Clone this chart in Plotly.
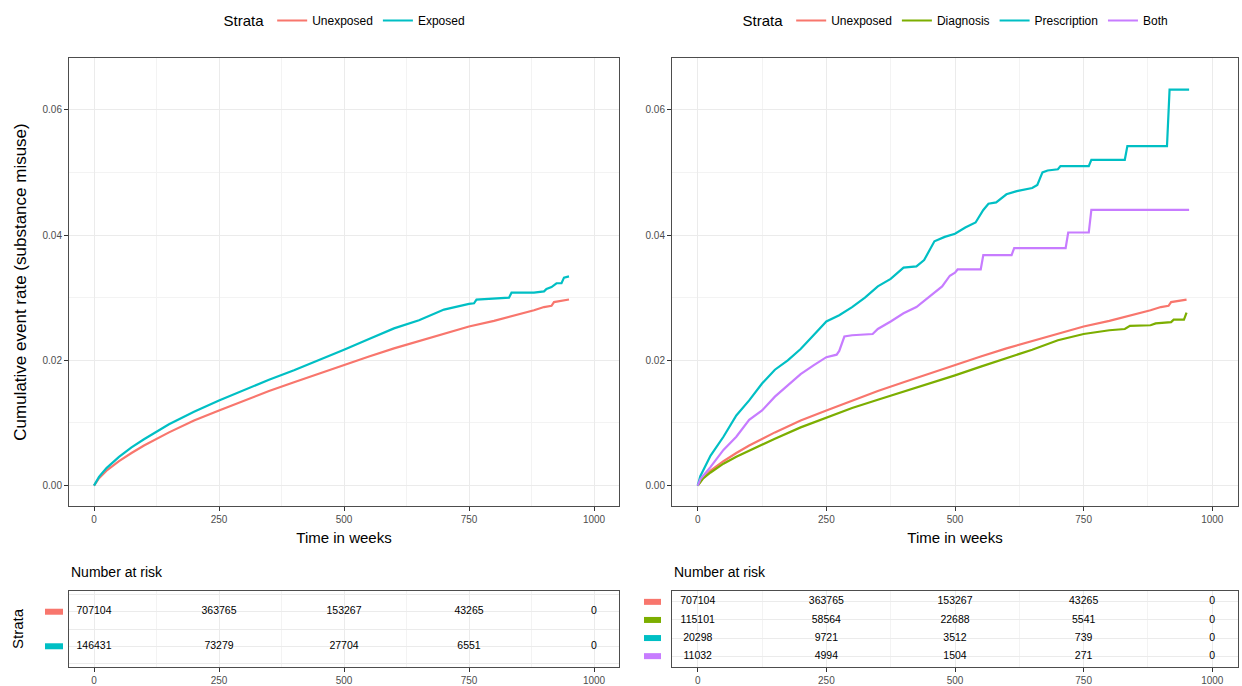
import plotly.graph_objects as go

# ---------------- data ----------------
# Left panel: Unexposed vs Exposed
t_unexposed = [0, 10, 25, 50, 75, 100, 150, 200, 250, 300, 350, 400, 450, 500, 550, 600,
               650, 700, 750, 800, 850, 880, 900, 915, 920, 950]
v_unexposed = [0, 0.0012, 0.0024, 0.0039, 0.0052, 0.0064, 0.0085, 0.0104, 0.0120, 0.0136,
               0.0151, 0.0165, 0.0179, 0.0192, 0.0206, 0.0219, 0.0231, 0.0242, 0.0254,
               0.0263, 0.0273, 0.0280, 0.0285, 0.0287, 0.0293, 0.0297]

t_exposed = [0, 10, 25, 50, 75, 100, 150, 200, 250, 300, 350, 400, 450, 500, 550, 600, 650,
             700, 750, 760, 765, 800, 830, 835, 880, 900, 905, 915, 925, 935, 940, 950]
v_exposed = [0, 0.0014, 0.0028, 0.0046, 0.0061, 0.0074, 0.0098, 0.0118, 0.0136, 0.0153,
             0.0169, 0.0184, 0.0200, 0.0217, 0.0234, 0.0251, 0.0264, 0.0281, 0.0290, 0.0291,
             0.0297, 0.0299, 0.0300, 0.0308, 0.0308, 0.0310, 0.0314, 0.0317, 0.0323, 0.0323,
             0.0332, 0.0334]

# Right panel: Diagnosis / Prescription / Both (Unexposed as above)
t_diagnosis = [0, 10, 25, 50, 75, 100, 150, 200, 250, 300, 350, 400, 450, 500, 550, 600, 650,
               700, 750, 800, 830, 840, 880, 890, 920, 925, 945, 950]
v_diagnosis = [0, 0.0011, 0.0021, 0.0035, 0.0046, 0.0056, 0.0075, 0.0093, 0.0109, 0.0124,
               0.0137, 0.0150, 0.0162, 0.0176, 0.0190, 0.0203, 0.0217, 0.0232, 0.0242, 0.0248,
               0.0250, 0.0255, 0.0256, 0.0259, 0.0261, 0.0265, 0.0265, 0.0276]

t_prescription = [0, 5, 25, 50, 75, 100, 125, 150, 175, 200, 225, 250, 275, 300, 325, 350, 375,
                  400, 425, 440, 460, 480, 500, 520, 540, 555, 565, 580, 600, 620, 650, 660,
                  665, 670, 680, 700, 705, 760, 765, 830, 835, 912, 917, 955]
v_prescription = [0, 0.0015, 0.0048, 0.0078, 0.0112, 0.0136, 0.0163, 0.0185, 0.0200, 0.0218,
                  0.0240, 0.0262, 0.0272, 0.0285, 0.0300, 0.0318, 0.0330, 0.0348, 0.0350,
                  0.0360, 0.0390, 0.0397, 0.0402, 0.0412, 0.0420, 0.0440, 0.0450, 0.0452,
                  0.0465, 0.0470, 0.0475, 0.0480, 0.0490, 0.0500, 0.0503, 0.0505, 0.0510,
                  0.0510, 0.0520, 0.0520, 0.0542, 0.0542, 0.0632, 0.0632]

t_both = [0, 5, 25, 50, 75, 100, 125, 150, 175, 200, 225, 250, 270, 275, 285, 300, 340, 350,
          375, 400, 425, 450, 475, 490, 500, 505, 550, 555, 610, 615, 715, 720, 760, 765, 955]
v_both = [0, 0.0010, 0.0030, 0.0057, 0.0078, 0.0105, 0.0120, 0.0142, 0.0160, 0.0178, 0.0192,
          0.0205, 0.0209, 0.0215, 0.0238, 0.0240, 0.0242, 0.0250, 0.0262, 0.0275, 0.0285,
          0.0302, 0.0318, 0.0335, 0.0340, 0.0345, 0.0345, 0.0368, 0.0368, 0.0379, 0.0379,
          0.0404, 0.0404, 0.0440, 0.0440]

# Number at risk tables
risk_times = [0, 250, 500, 750, 1000]
risk_unexposed = [707104, 363765, 153267, 43265, 0]
risk_exposed = [146431, 73279, 27704, 6551, 0]
risk_diagnosis = [115101, 58564, 22688, 5541, 0]
risk_prescription = [20298, 9721, 3512, 739, 0]
risk_both = [11032, 4994, 1504, 271, 0]

x_ticks = [0, 250, 500, 750, 1000]
y_ticks = [0, 0.02, 0.04, 0.06]

# ---------------- styling ----------------
RED, BLUE, GREEN, VIOLET = "#F8766D", "#00BFC4", "#7CAE00", "#C77CFF"
FONT = "Liberation Sans, Arial, sans-serif"
GRID = "#EBEBEB"
MINOR = "#F3F3F3"
BORDER = "#4D4D4D"
TICKC = "#4D4D4D"
W, H = 1242, 686


def px_x(p):
    return p / W


def px_y(p):
    return 1 - p / H


fig = go.Figure()


def curve(t, v, name, color, xa, ya, legend):
    fig.add_trace(go.Scatter(x=t, y=v, mode="lines", name=name, xaxis=xa, yaxis=ya,
                             legend=legend, line=dict(color=color, width=2.2),
                             hoverinfo="skip"))


curve(t_unexposed, v_unexposed, "Unexposed", RED, "x", "y", "legend")
curve(t_exposed, v_exposed, "Exposed", BLUE, "x", "y", "legend")
curve(t_unexposed, v_unexposed, "Unexposed", RED, "x2", "y2", "legend2")
curve(t_diagnosis, v_diagnosis, "Diagnosis", GREEN, "x2", "y2", "legend2")
curve(t_prescription, v_prescription, "Prescription", BLUE, "x2", "y2", "legend2")
curve(t_both, v_both, "Both", VIOLET, "x2", "y2", "legend2")


def risk_row(counts, row, xa, ya):
    fig.add_trace(go.Scatter(x=risk_times, y=[row] * len(risk_times), mode="text",
                             text=[str(c) for c in counts], textposition="middle center",
                             textfont=dict(family=FONT, size=10.5, color="#000000"),
                             xaxis=xa, yaxis=ya, showlegend=False, hoverinfo="skip",
                             cliponaxis=False))


left_rows = [("Unexposed", risk_unexposed, RED), ("Exposed", risk_exposed, BLUE)]
right_rows = [("Unexposed", risk_unexposed, RED), ("Diagnosis", risk_diagnosis, GREEN),
              ("Prescription", risk_prescription, BLUE), ("Both", risk_both, VIOLET)]

LEFT_TAB_RANGE = [0.4, 2.6]
RIGHT_TAB_RANGE = [0.4, 4.6]


def swatch(row, rng, xa, ya, x0, x1, col):
    frac = (row - rng[0]) / (rng[1] - rng[0])
    return dict(type="rect", xref=f"{xa} domain", yref=f"{ya} domain",
                xsizemode="pixel", ysizemode="pixel", xanchor=0, yanchor=frac,
                x0=x0, x1=x1, y0=-3, y1=3, fillcolor=col, line=dict(width=0),
                layer="above")


shapes = []
for i, (_, counts, col) in enumerate(left_rows):
    row = len(left_rows) - i
    risk_row(counts, row, "x3", "y3")
    shapes.append(swatch(row, LEFT_TAB_RANGE, "x3", "y3", -24, -6, col))
for i, (_, counts, col) in enumerate(right_rows):
    row = len(right_rows) - i
    risk_row(counts, row, "x4", "y4")
    shapes.append(swatch(row, RIGHT_TAB_RANGE, "x4", "y4", -28, -11, col))

# domains
LX = [px_x(69), px_x(619)]
RX = [px_x(672), px_x(1238)]
MAIN_Y = [px_y(506), px_y(58)]
TAB_Y = [px_y(667), px_y(591)]

tickfont = dict(family=FONT, size=10, color=TICKC)
common_x = dict(range=[-50, 1050], tickvals=x_ticks, ticktext=[str(v) for v in x_ticks],
                showgrid=True, gridcolor=GRID, gridwidth=1,
                minor=dict(dtick=125, tick0=0, showgrid=True, gridcolor=MINOR, gridwidth=1, ticks=""),
                zeroline=False, showline=True, linecolor=BORDER, linewidth=1, mirror=True,
                ticks="outside", ticklen=4, tickcolor="#333333", tickwidth=1,
                tickfont=tickfont, fixedrange=True)
common_y = dict(range=[-0.00325, 0.06825], tickvals=y_ticks,
                ticktext=[f"{v:.2f}" for v in y_ticks],
                showgrid=True, gridcolor=GRID, gridwidth=1,
                minor=dict(tickvals=[0.01, 0.03, 0.05], showgrid=True, gridcolor=MINOR,
                           gridwidth=1, ticks=""),
                zeroline=False, showline=True, linecolor=BORDER, linewidth=1, mirror=True,
                ticks="outside", ticklen=4, tickcolor="#333333", tickwidth=1,
                tickfont=tickfont, fixedrange=True)

xtitle = dict(text="Time in weeks", font=dict(family=FONT, size=15, color="#000000"), standoff=8)

table_y = dict(showgrid=True, gridcolor=GRID, zeroline=False, showline=True, linecolor=BORDER,
               linewidth=1, mirror=True, ticks="", showticklabels=False, fixedrange=True)

legend_common = dict(orientation="h", y=px_y(6), yanchor="top", xanchor="center",
                     title=dict(text="Strata", font=dict(family=FONT, size=15, color="#000000")),
                     font=dict(family=FONT, size=12, color="#000000"),
                     bgcolor="rgba(0,0,0,0)", itemwidth=30, tracegroupgap=0)

fig.update_layout(
    width=W, height=H, autosize=False,
    margin=dict(l=0, r=0, t=0, b=0),
    paper_bgcolor="white", plot_bgcolor="white",
    font=dict(family=FONT, color="#000000"),
    template="none",
    xaxis=dict(domain=LX, anchor="y", title=xtitle, **common_x),
    yaxis=dict(domain=MAIN_Y, anchor="x",
               title=dict(text="Cumulative event rate (substance misuse)",
                          font=dict(family=FONT, size=17, color="#000000"), standoff=11),
               **common_y),
    xaxis2=dict(domain=RX, anchor="y2", title=xtitle, **common_x),
    yaxis2=dict(domain=MAIN_Y, anchor="x2", **common_y),
    xaxis3=dict(domain=LX, anchor="y3", **common_x),
    yaxis3=dict(domain=TAB_Y, anchor="x3", range=LEFT_TAB_RANGE,
                title=dict(text="Strata", font=dict(family=FONT, size=15, color="#000000"),
                           standoff=40),
                **table_y),
    xaxis4=dict(domain=RX, anchor="y4", **common_x),
    yaxis4=dict(domain=TAB_Y, anchor="x4", range=RIGHT_TAB_RANGE, **table_y),
    legend=dict(x=px_x(346), **legend_common),
    legend2=dict(x=px_x(957), **legend_common),
    shapes=shapes,
    annotations=[
        dict(text="Number at risk", xref="paper", yref="paper", x=px_x(69), y=px_y(572),
             xanchor="left", yanchor="middle", showarrow=False,
             font=dict(family=FONT, size=14, color="#000000")),
        dict(text="Number at risk", xref="paper", yref="paper", x=px_x(672), y=px_y(572),
             xanchor="left", yanchor="middle", showarrow=False,
             font=dict(family=FONT, size=14, color="#000000")),
    ],
)

fig.write_html("out.html", config={"displayModeBar": False},
               post_script="document.body.style.margin='0';")
